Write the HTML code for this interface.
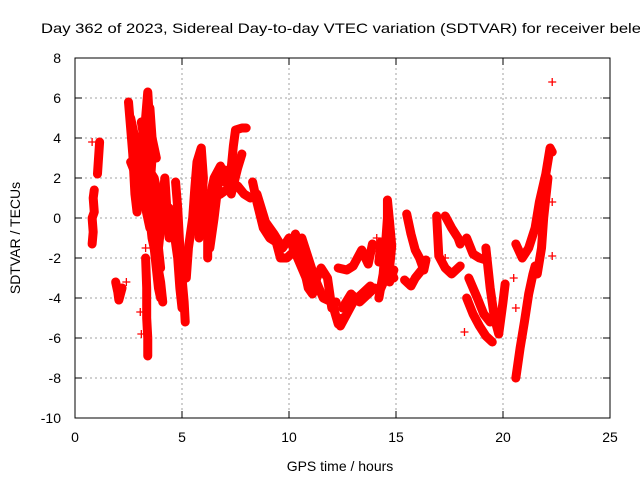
<!DOCTYPE html>
<html><head><meta charset="utf-8"><style>
html,body{margin:0;padding:0;background:#fff;}
svg{display:block;font-family:"Liberation Sans",Arial,sans-serif;}
</style></head><body>
<svg id="chart" width="640" height="480" viewBox="0 0 640 480">
<rect width="640" height="480" fill="#fff"/>
<text x="41" y="33" font-size="14" textLength="600" lengthAdjust="spacingAndGlyphs">Day 362 of 2023, Sidereal Day-to-day VTEC variation (SDTVAR) for receiver bele</text>
<g id="grid"></g>
<g id="axes"></g>
<g id="marks"></g>
<rect x="75" y="58" width="535" height="360" fill="none" stroke="#000" stroke-width="1"/>
<text x="340" y="471" font-size="14" text-anchor="middle">GPS time / hours</text>
<text transform="translate(20,238) rotate(-90)" font-size="14" text-anchor="middle">SDTVAR / TECUs</text>
</svg>
<script>
const xTicks = [0,5,10,15,20,25];
const yTicks = [8,6,4,2,0,-2,-4,-6,-8,-10];
// tracks of [hour, value]
const trackA = [[0.8,-1.3],[0.85,-0.7],[0.8,0],[0.9,0.3],[0.85,1.0],[0.9,1.4]];
const trackA2 = [[1.05,2.2],[1.1,3.0],[1.15,3.8]];
const trackB = [[1.9,-3.2],[2.0,-3.7],[2.05,-4.1],[2.2,-3.5]];
const trackC = [[2.5,5.8],[2.6,4.5],[2.7,3.2],[2.8,1.2],[2.9,0.3],[3.0,2.5],[3.1,3.8],[3.3,5.0],[3.4,6.3],[3.5,4.5],[3.6,3.0],[3.5,1.5],[3.6,0],[3.7,-1.5],[3.8,-2.5],[3.9,-3.5],[4.0,-4.0]];
const trackC2 = [[2.6,2.8],[2.9,2.0],[3.2,1.0],[3.5,-0.5],[3.7,0.8],[3.9,-0.3],[4.1,1.0],[4.2,2.0],[4.3,0.3],[4.4,-1.0]];
const trackC3 = [[3.3,-2.0],[3.35,-3.5],[3.35,-5.0],[3.4,-6.0],[3.4,-6.9]];
const trackC4 = [[2.6,5.0],[2.8,4.0],[3.0,3.0],[3.2,2.0],[3.4,1.0],[3.6,-1.0],[3.8,-2.0],[4.0,-3.2],[4.1,-4.2]];
const trackC5 = [[3.2,3.2],[3.4,2.5],[3.7,2.0],[3.9,1.0],[4.0,-0.5],[3.9,-1.5],[4.0,-2.5]];
const trackC6 = [[3.1,4.8],[3.3,3.5],[3.5,5.5],[3.6,4.0],[3.8,3.0]];
const trackD = [[4.7,1.8],[4.8,0.5],[4.9,-1.5],[5.0,-3.0],[5.1,-4.2],[5.15,-5.2]];
const trackD2 = [[5.2,-3.0],[5.3,-1.5],[5.5,0],[5.6,1.5],[5.7,2.8],[5.9,3.5],[6.0,2.0],[5.9,0.5],[5.8,-1.0]];
const trackD3 = [[4.4,0.5],[4.6,-0.5],[4.8,-2.0],[4.9,-3.5],[5.0,-4.5]];
const trackE = [[6.2,-2.0],[6.2,-0.5],[6.3,1.0],[6.5,2.0],[6.8,2.6],[7.0,1.8],[7.3,2.5],[7.4,3.6],[7.5,4.4],[7.8,4.5],[8.0,4.5]];
const trackE2 = [[6.4,1.0],[6.8,1.2],[7.2,1.5],[7.6,1.6],[7.9,1.2],[8.2,1.0]];
const trackE3 = [[6.3,-1.5],[6.5,0],[6.7,1.8],[7.0,2.4],[7.3,1.2],[7.6,2.5],[7.8,3.2]];
const trackF = [[8.3,1.8],[8.5,0.8],[8.8,-0.5],[9.1,-1.0],[9.4,-1.2],[9.6,-2.0],[9.9,-2.0],[10.1,-1.8]];
const trackF2 = [[10.3,-0.8],[10.5,-1.5],[10.7,-2.5],[10.9,-3.5],[11.1,-3.8],[11.3,-3.0],[11.5,-2.5],[11.8,-3.0],[12.0,-4.5],[12.2,-4.2]];
const trackF3 = [[10.6,-1.0],[10.9,-2.0],[11.2,-3.0],[11.6,-4.0],[12.0,-4.2],[12.3,-5.3],[12.5,-5.0]];
const trackF4 = [[8.5,1.2],[8.9,-0.2],[9.3,-0.8],[9.7,-1.5],[10.0,-1.0],[10.4,-2.0],[10.8,-3.0]];
const trackG = [[12.4,-5.4],[12.7,-4.8],[13.0,-4.2],[13.4,-3.8],[13.8,-3.4]];
const trackG2 = [[12.3,-2.5],[12.7,-2.6],[13.0,-2.4],[13.4,-1.6],[13.7,-2.3],[13.9,-1.3]];
const trackG3 = [[12.5,-4.5],[12.9,-3.8],[13.3,-4.2],[13.7,-3.8],[14.0,-3.5]];
const trackH = [[14.2,-4.0],[14.4,-2.8],[14.5,-1.5],[14.6,0],[14.6,0.9],[14.7,-0.2],[14.8,-1.4],[14.7,-2.5],[14.9,-3.0]];
const trackH2 = [[14.2,-2.2],[14.3,-1.2]];
const trackH3 = [[14.3,-3.5],[14.5,-3.0],[14.7,-3.2],[14.9,-2.6]];
const trackI = [[15.5,0.2],[15.7,-0.8],[15.9,-1.6],[16.1,-2.0],[16.3,-2.6],[16.4,-2.1]];
const trackI2 = [[15.4,-3.1],[15.7,-3.4],[15.9,-3.0],[16.2,-2.6]];
const trackJ = [[16.9,0.1],[17.0,-1.9],[17.3,-2.5],[17.6,-2.8],[18.0,-2.4]];
const trackJ2 = [[17.3,0.1],[17.6,-0.5],[17.9,-1.0],[18.0,-1.3]];
const trackK = [[18.3,-1.0],[18.6,-1.8],[18.9,-2.0],[19.2,-2.1]];
const trackK2 = [[18.3,-4.0],[18.6,-4.8],[18.9,-5.4],[19.2,-5.9],[19.5,-6.2]];
const trackK3 = [[19.2,-1.5],[19.4,-3.5],[19.6,-5.0],[19.8,-5.8],[20.0,-4.2],[20.1,-3.3]];
const trackK4 = [[18.4,-3.0],[18.8,-4.0],[19.1,-4.8],[19.4,-5.2],[19.7,-4.8]];
const trackL = [[20.6,-8.0],[20.8,-6.5],[21.0,-5.2],[21.2,-3.8],[21.4,-2.8],[21.5,-2.4]];
const trackL2 = [[20.6,-1.3],[20.9,-2.0],[21.2,-1.5],[21.5,-0.5],[21.7,0.8],[22.0,2.2],[22.2,3.5],[22.3,3.3]];
const trackL3 = [[21.6,-2.8],[21.8,-1.5],[21.9,0],[22.0,1.0],[22.1,2.0]];
const singles = [[0.8,3.8],[22.3,6.8],[22.3,0.8],[22.3,-1.9],[20.6,-4.5],[18.2,-5.7],[3.05,-4.7],[3.1,-5.8],[2.4,-3.2],[3.3,-1.5],[17.3,-2.0],[20.5,-3.0],[14.1,-1.0]];
const tracks = [trackA,trackA2,trackB,trackC,trackC2,trackC3,trackC4,trackC5,trackC6,trackD,trackD2,trackD3,trackE,trackE2,trackE3,trackF,trackF2,trackF3,trackF4,trackG,trackG2,trackG3,trackH,trackH2,trackH3,trackI,trackI2,trackJ,trackJ2,trackK,trackK2,trackK3,trackK4,trackL,trackL2,trackL3];

const NS='http://www.w3.org/2000/svg';
const X = t => 75 + t/25*535;
const Y = v => 58 + (8-v)/18*360;
const grid=document.getElementById('grid'), axes=document.getElementById('axes'), marks=document.getElementById('marks');
function mk(tag,attrs,parent){const e=document.createElementNS(NS,tag);for(const k in attrs)e.setAttribute(k,attrs[k]);parent.appendChild(e);return e;}
xTicks.forEach(t=>{
  if(t>0&&t<25){const g=mk('line',{x1:X(t),x2:X(t),y1:58,y2:418,stroke:'#a0a0a0','stroke-dasharray':'2,3'},grid);
  
  }
  mk('line',{x1:X(t),x2:X(t),y1:418,y2:411,stroke:'#000'},axes);
  mk('line',{x1:X(t),x2:X(t),y1:58,y2:65,stroke:'#000'},axes);
  const l=mk('text',{x:X(t),y:442,'font-size':14,'text-anchor':'middle'},axes);l.textContent=t;
  
  
});
yTicks.forEach(v=>{
  if(v<8&&v>-10){const g=mk('line',{x1:75,x2:610,y1:Y(v),y2:Y(v),stroke:'#a0a0a0','stroke-dasharray':'2,3'},grid);
  
  }
  mk('line',{x1:75,x2:82,y1:Y(v),y2:Y(v),stroke:'#000'},axes);
  mk('line',{x1:603,x2:610,y1:Y(v),y2:Y(v),stroke:'#000'},axes);
  const l=mk('text',{x:61,y:Y(v)+5,'font-size':14,'text-anchor':'end'},axes);l.textContent=v;
  
  
});
tracks.forEach(tr=>{
  const p=mk('polyline',{points:tr.map(d=>X(d[0])+','+Y(d[1])).join(' '),fill:'none',stroke:'#f00','stroke-width':9,'stroke-linejoin':'round','stroke-linecap':'round'},marks);
  
  
});
tracks.concat([singles]).forEach(tr=>tr.forEach(d=>{
  const x=X(d[0]),y=Y(d[1]);
  const m=mk('path',{d:`M${x-4},${y}h8M${x},${y-4}v8`,stroke:'#f00','stroke-width':1.3},marks);
  
  
}));
</script>
</body></html>
